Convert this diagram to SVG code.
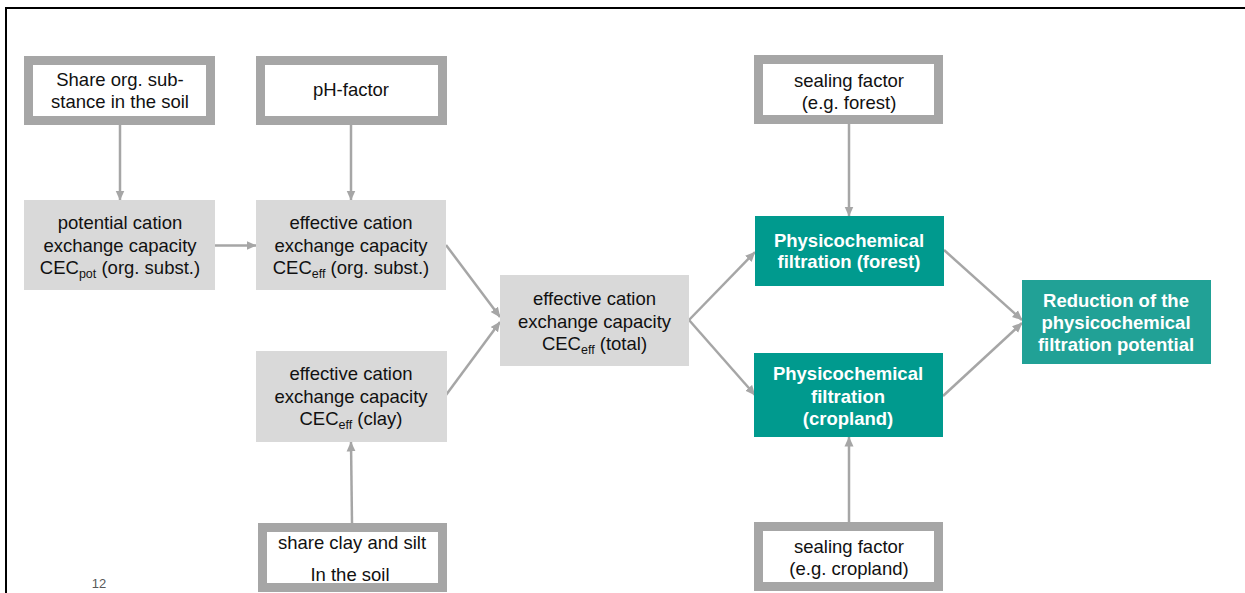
<svg xmlns="http://www.w3.org/2000/svg" width="1245" height="593" viewBox="0 0 1245 593">
<defs>
<marker id="ah" markerUnits="userSpaceOnUse" markerWidth="10" markerHeight="10" viewBox="0 0 10 10" refX="9.5" refY="5" orient="auto">
<path d="M0,0.5 L10,5 L0,9.5 Z" fill="#a6a6a6"/>
</marker>
<style>
text{font-family:"Liberation Sans",Arial,sans-serif;font-size:18.5px;text-anchor:middle;fill:#111111}
.b{font-weight:bold;fill:#ffffff}
.in{fill:#ffffff;stroke:#a6a6a6;stroke-width:9}
.g{fill:#d9d9d9}
.t{fill:#009a8e}
.t2{fill:#21a196}
.c line{stroke:#a6a6a6;stroke-width:2.5;marker-end:url(#ah)}
.s{font-size:12.5px}
</style>
</defs>
<rect width="1245" height="593" fill="#ffffff"/>
<g id="frame">
<line x1="5" y1="8" x2="1245" y2="8" stroke="#000" stroke-width="2"/>
<line x1="6" y1="7" x2="6" y2="593" stroke="#000" stroke-width="2"/>
</g>
<g class="c" id="connectors">
<line x1="120" y1="125" x2="120" y2="200"/>
<line x1="351" y1="125" x2="351" y2="200"/>
<line x1="214" y1="245.5" x2="256" y2="245.5"/>
<line x1="446" y1="245" x2="500" y2="317"/>
<line x1="446" y1="395" x2="500" y2="322"/>
<line x1="689" y1="320" x2="755" y2="252"/>
<line x1="689" y1="320" x2="755" y2="395"/>
<line x1="849" y1="124" x2="849" y2="216"/>
<line x1="352" y1="523" x2="351" y2="442"/>
<line x1="849" y1="522" x2="849" y2="437"/>
<line x1="944" y1="250" x2="1022" y2="320"/>
<line x1="943" y1="396" x2="1022" y2="323"/>
</g>
<g id="share-org">
<rect class="in" x="28.5" y="60.5" width="182" height="60"/>
<text x="120" y="86">Share org. sub-</text>
<text x="120" y="108">stance in the soil</text>
</g>
<g id="ph-factor">
<rect class="in" x="260.5" y="60.5" width="182" height="60"/>
<text x="351" y="96">pH-factor</text>
</g>
<g id="cec-pot">
<rect class="g" x="24" y="200" width="191" height="90"/>
<text x="120" y="229">potential cation</text>
<text x="120" y="251.5">exchange capacity</text>
<text x="120" y="274">CEC<tspan class="s" dy="4">pot</tspan><tspan dy="-4"> (org. subst.)</tspan></text>
</g>
<g id="cec-eff-org">
<rect class="g" x="256" y="200" width="190" height="90"/>
<text x="351" y="229">effective cation</text>
<text x="351" y="251.5">exchange capacity</text>
<text x="351" y="274">CEC<tspan class="s" dy="4">eff</tspan><tspan dy="-4"> (org. subst.)</tspan></text>
</g>
<g id="cec-eff-clay">
<rect class="g" x="256" y="351" width="191" height="91"/>
<text x="351" y="380">effective cation</text>
<text x="351" y="402.5">exchange capacity</text>
<text x="351" y="425">CEC<tspan class="s" dy="4">eff</tspan><tspan dy="-4"> (clay)</tspan></text>
</g>
<g id="share-clay">
<rect class="in" x="262.5" y="527.5" width="180" height="60"/>
<text x="352" y="549">share clay and silt</text>
<text x="350" y="581">In the soil</text>
</g>
<g id="cec-eff-total">
<rect class="g" x="500" y="275" width="189" height="91"/>
<text x="594.5" y="305">effective cation</text>
<text x="594.5" y="327.5">exchange capacity</text>
<text x="594.5" y="350">CEC<tspan class="s" dy="4">eff</tspan><tspan dy="-4"> (total)</tspan></text>
</g>
<g id="sealing-forest">
<rect class="in" x="758.5" y="59.5" width="180" height="60"/>
<text x="849" y="87">sealing factor</text>
<text x="849" y="109">(e.g. forest)</text>
</g>
<g id="filtration-forest">
<rect class="t" x="755" y="216" width="189" height="70"/>
<text class="b" x="849" y="247">Physicochemical</text>
<text class="b" x="849" y="268">filtration (forest)</text>
</g>
<g id="filtration-cropland">
<rect class="t" x="754" y="353" width="189" height="84"/>
<text class="b" x="848" y="380">Physicochemical</text>
<text class="b" x="848" y="402.5">filtration</text>
<text class="b" x="848" y="425">(cropland)</text>
</g>
<g id="sealing-cropland">
<rect class="in" x="758.5" y="526.5" width="180" height="60"/>
<text x="849" y="553">sealing factor</text>
<text x="849" y="575">(e.g. cropland)</text>
</g>
<g id="reduction">
<rect class="t2" x="1022" y="280" width="189" height="84"/>
<text class="b" x="1116" y="307">Reduction of the</text>
<text class="b" x="1116" y="329">physicochemical</text>
<text class="b" x="1116" y="351">filtration potential</text>
</g>
<text x="99" y="588" style="font-size:13px;fill:#595959">12</text>
</svg>
